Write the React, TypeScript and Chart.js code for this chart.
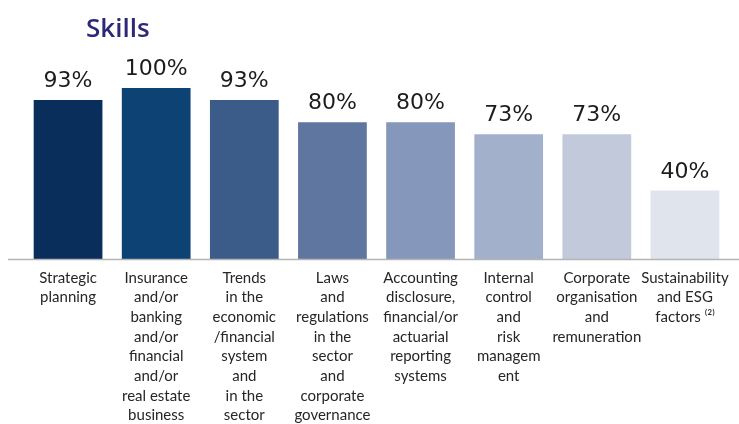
import React, { useEffect, useRef } from "react";
import { Chart, registerables } from "chart.js";

Chart.register(...registerables);

const title = "Skills";
const categories: string[][] = [
  ["Strategic", "planning"],
  ["Insurance", "and/or", "banking", "and/or", "financial", "and/or", "real estate", "business"],
  ["Trends", "in the", "economic", "/financial", "system", "and", "in the", "sector"],
  ["Laws", "and", "regulations", "in the", "sector", "and", "corporate", "governance"],
  ["Accounting", "disclosure,", "financial/or", "actuarial", "reporting", "systems"],
  ["Internal", "control", "and", "risk", "managem", "ent"],
  ["Corporate", "organisation", "and", "remuneration"],
  ["Sustainability", "and ESG", "factors \u207D\u00B2\u207E"],
];
const values: number[] = [93, 100, 93, 80, 80, 73, 73, 40];
const barColors: string[] = [
  "#0a2e5c",
  "#0d4275",
  "#3b5b89",
  "#5f77a0",
  "#8597bb",
  "#a2b0cb",
  "#c2c9db",
  "#dfe4ed",
];

const valueLabelPlugin = {
  id: "valueLabels",
  afterDatasetsDraw(chart: any) {
    const { ctx } = chart;
    const meta = chart.getDatasetMeta(0);
    ctx.save();
    ctx.font = "22px 'DejaVu Sans'";
    ctx.fillStyle = "#1c1c1c";
    ctx.textAlign = "center";
    ctx.textBaseline = "alphabetic";
    meta.data.forEach((bar: any, i: number) => {
      ctx.fillText(values[i] + "%", bar.x, bar.y - 13);
    });
    ctx.restore();
  },
};

const baselinePlugin = {
  id: "baseline",
  afterDatasetsDraw(chart: any) {
    const { ctx, width } = chart;
    const y = chart.scales.y.getPixelForValue(0);
    ctx.save();
    ctx.strokeStyle = "#b4b4b4";
    ctx.lineWidth = 1.5;
    ctx.beginPath();
    ctx.moveTo(8, y + 0.5);
    ctx.lineTo(width, y + 0.5);
    ctx.stroke();
    ctx.restore();
  },
};

export default function App() {
  const ref = useRef<HTMLCanvasElement | null>(null);
  useEffect(() => {
    if (!ref.current) return;
    const chart = new Chart(ref.current, {
      type: "bar",
      data: {
        labels: categories,
        datasets: [
          {
            data: values,
            backgroundColor: barColors,
            borderWidth: 0,
            barPercentage: 0.78,
            categoryPercentage: 1,
          },
        ],
      },
      options: {
        animation: false,
        responsive: false,
        maintainAspectRatio: false,
        layout: { padding: { left: 24, right: 10, top: 88, bottom: 0 } },
        plugins: {
          legend: { display: false },
          tooltip: { enabled: false },
          title: { display: false },
        },
        scales: {
          x: {
            grid: { display: false },
            border: { display: false },
            ticks: {
              color: "#262626",
              font: { family: "Lato", size: 15, lineHeight: 1.31 },
              padding: 1,
              maxRotation: 0,
              autoSkip: false,
            },
            afterFit: (scale: any) => {
              scale.height = 165;
            },
          },
          y: {
            display: false,
            min: 0,
            max: 100,
          },
        },
      },
      plugins: [baselinePlugin, valueLabelPlugin],
    });
    return () => chart.destroy();
  }, []);
  return (
    <div style={{ position: "fixed", left: 0, top: 0, width: 739, height: 424, background: "#ffffff" }}>
      <div
        style={{
          position: "absolute",
          left: 86,
          top: 14,
          fontFamily: "'Open Sans'",
          fontWeight: 600,
          fontSize: 26,
          lineHeight: "26px",
          color: "#2c2875",
        }}
      >
        {title}
      </div>
      <canvas ref={ref} width={739} height={424} style={{ display: "block" }} />
    </div>
  );
}
